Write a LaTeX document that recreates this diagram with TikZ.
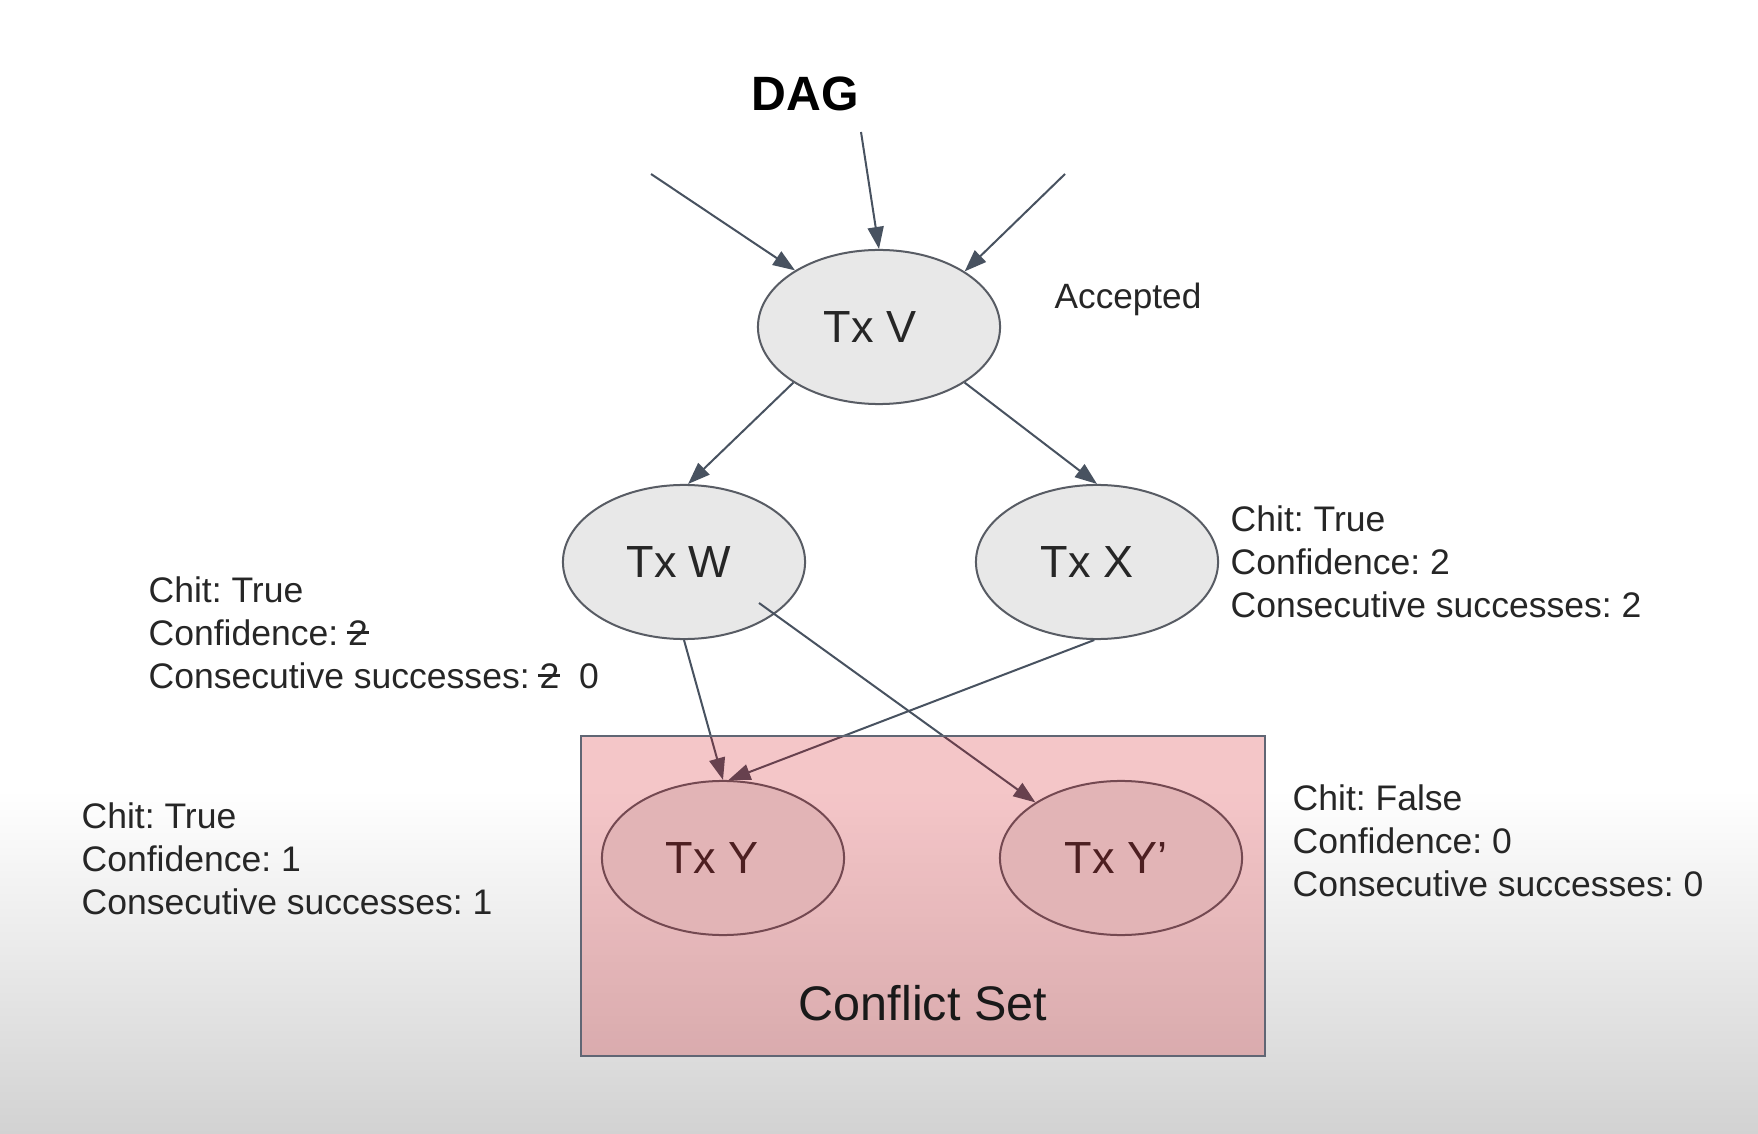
\documentclass[tikz,border=0pt]{standalone}
\usepackage{fontspec}
\setmainfont{Liberation Sans}
\usetikzlibrary{shapes.geometric,arrows.meta}
\definecolor{txfill}{RGB}{232,232,232}
\definecolor{txline}{RGB}{88,92,100}
\definecolor{linkcol}{RGB}{72,82,96}
\definecolor{setred}{RGB}{210,10,20}
\definecolor{setline}{RGB}{96,102,116}
\definecolor{bggray}{RGB}{210,210,210}
\newcommand{\crossout}[1]{\ooalign{#1\cr\hidewidth\rule[0.32em]{0.62em}{0.07em}\hidewidth\cr}}
\frenchspacing

\begin{document}
\begin{tikzpicture}[x=0.01cm, y=-0.01cm,
    tx/.style={ellipse, draw=txline, line width=0.02cm, fill=txfill, minimum width=2.42cm, minimum height=1.54cm, inner sep=0pt, font=\fontsize{12.8}{15}\selectfont, text=black!85},
    chit/.style={anchor=north west, align=left, inner sep=0pt, font=\fontsize{10.1}{12.2}\selectfont, text=black!85},
    link/.style={draw=linkcol, line width=0.02cm, -{Triangle[length=0.22cm, width=0.16cm]}}]
  \useasboundingbox (0,0) rectangle (1758,1134);
  \fill[white] (0,0) rectangle (1758,1134);
  \shade[top color=white, bottom color=bggray] (0,790) rectangle (1758,1134);

  \node[font=\bfseries\fontsize{13.7}{16}\selectfont] (dag) at (805,94) {DAG};
  \node[tx] (V) at (879,327) {Tx V\hspace*{0.18cm}};
  \node[tx] (W) at (684,562) {Tx W\hspace*{0.1cm}};
  \node[tx] (X) at (1097,562) {Tx X\hspace*{0.2cm}};
  \node[tx] (Y) at (723,858) {Tx Y\hspace*{0.22cm}};
  \node[tx] (Yp) at (1121,858) {Tx Y’\hspace*{0.1cm}};

  \coordinate (in1) at (651,174);
  \coordinate (in2) at (861,132);
  \coordinate (in3) at (1065,174);
  \coordinate (wstart) at (759,603);

  \draw[link] (in1) -- (V.146);
  \draw[link] (in2) -- (V.north);
  \draw[link] (in3) -- (V.33);
  \draw[link] (V.213) -- (W.87);
  \draw[link] (V.327) -- (X.north);
  \draw[link] (W.south) -- (Y.north);
  \draw[link] (X.268) -- (Y.86);
  \draw[link] (wstart) -- (Yp.147);

  \node[draw=setline, line width=0.02cm, fill=setred, fill opacity=0.23, text opacity=1, minimum width=6.84cm, minimum height=3.2cm, inner sep=0pt] (conflict) at (923,896) {};
  \node[font=\fontsize{13.8}{16}\selectfont, text=black!90] (conflictlabel) at (923,1003) {Conflict Set};

  \node[anchor=base west, inner sep=0pt, font=\fontsize{10}{12}\selectfont, text=black!85] (accepted) at (1054,309) {Accepted};
  \node[chit] (chitW) at (148,576) {Chit: True\\Confidence: \crossout{2}\\Consecutive successes: \crossout{2}\ \ 0};
  \node[chit] (chitX) at (1230,505) {Chit: True\\Confidence: 2\\Consecutive successes: 2};
  \node[chit] (chitY) at (81,802) {Chit: True\\Confidence: 1\\Consecutive successes: 1};
  \node[chit] (chitYp) at (1292,784) {Chit: False\\Confidence: 0\\Consecutive successes: 0};
\end{tikzpicture}
\end{document}
